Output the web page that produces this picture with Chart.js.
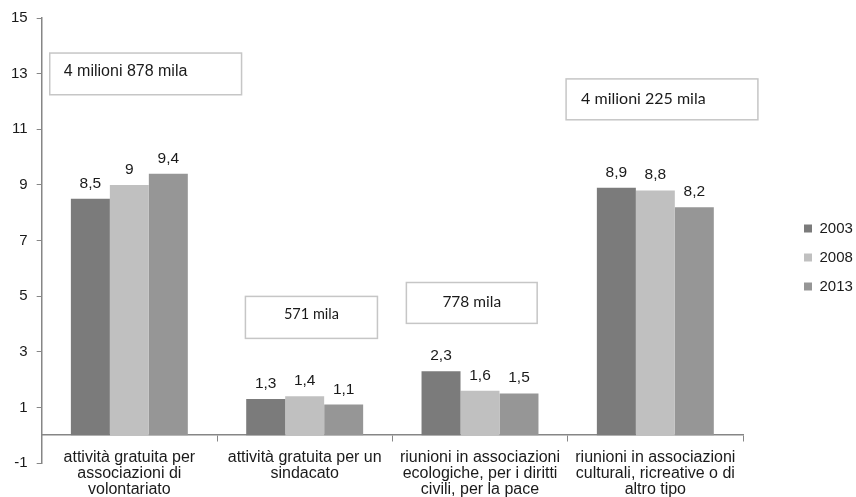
<!DOCTYPE html>
<html>
<head>
    <title>Partecipazione sociale</title>
    <script src="https://cdn.jsdelivr.net/npm/chart.js"></script>
    <style>
        body { margin: 0; background: #fff; }
        #wrap { width: 856px; height: 497px; }
    </style>
</head>
<body>
    <div id="wrap">
        <canvas id="chart" width="856" height="497"></canvas>
    </div>

    <script>
        // dati
        const categorie = [
            ['attività gratuita per', 'associazioni di', 'volontariato'],
            ['attività gratuita per un', 'sindacato'],
            ['riunioni in associazioni', 'ecologiche, per i diritti', 'civili, per la pace'],
            ['riunioni in associazioni', 'culturali, ricreative o di', 'altro tipo']
        ];
        const anni = ['2003', '2008', '2013'];
        const valori2003 = [8.5, 1.3, 2.3, 8.9];
        const valori2008 = [9, 1.4, 1.6, 8.8];
        const valori2013 = [9.4, 1.1, 1.5, 8.2];
        const tickY = { min: -1, max: 15, step: 2 };

        // riquadri di testo (in coordinate del grafico: indice categoria, valore)
        const riquadri = [
            { testo: '4 milioni 878 mila', x0: -0.454, x1: 0.640, y0: 12.24, y1: 13.74, font: '16px "Liberation Sans", Arial, sans-serif', align: 'left', pad: 14, dy: -2 },
            { testo: '571 mila', x0: 0.662, x1: 1.415, y0: 3.48, y1: 4.99, font: '14.5px Lato, sans-serif', align: 'center', dy: -3 },
            { testo: '778 mila', x0: 1.580, x1: 2.326, y0: 4.02, y1: 5.49, font: '15.5px Lato, sans-serif', align: 'center', dy: -1 },
            { testo: '4 milioni 225 mila', x0: 2.491, x1: 3.585, y0: 11.34, y1: 12.81, font: '16px Lato, sans-serif', align: 'left', pad: 15, dy: -1 }
        ];

        const grigioAsse = '#868686';
        const testo = '#1a1a1a';
        const arial = '"Liberation Sans", Arial, sans-serif';

        // etichette sopra le barre
        const etichette = {
            id: 'etichette',
            afterDatasetsDraw(chart) {
                const c = chart.ctx;
                c.save();
                c.font = '15.5px ' + arial;
                c.fillStyle = testo;
                c.textAlign = 'center';
                c.textBaseline = 'alphabetic';
                chart.data.datasets.forEach((ds, i) => {
                    chart.getDatasetMeta(i).data.forEach((bar, j) => {
                        const v = String(ds.data[j]).replace('.', ',');
                        c.fillText(v, bar.x, bar.y - 11);
                    });
                });
                c.restore();
            }
        };

        const caselle = {
            id: 'caselle',
            afterDraw(chart) {
                const c = chart.ctx;
                const sx = chart.scales.x, sy = chart.scales.y;
                c.save();
                riquadri.forEach(r => {
                    const left = sx.getPixelForValue(r.x0);
                    const right = sx.getPixelForValue(r.x1);
                    const top = sy.getPixelForValue(r.y1);
                    const bottom = sy.getPixelForValue(r.y0);
                    c.fillStyle = '#fff';
                    c.fillRect(left, top, right - left, bottom - top);
                    c.strokeStyle = '#c6c6c6';
                    c.lineWidth = 1.5;
                    c.strokeRect(left, top, right - left, bottom - top);
                    c.font = r.font;
                    c.fillStyle = testo;
                    c.textBaseline = 'middle';
                    const ym = (top + bottom) / 2 + r.dy;
                    if (r.align === 'left') {
                        c.textAlign = 'left';
                        c.fillText(r.testo, left + r.pad, ym);
                    } else {
                        c.textAlign = 'center';
                        c.fillText(r.testo, (left + right) / 2, ym);
                    }
                });
                c.restore();
            }
        };

        const ctx = document.getElementById('chart').getContext('2d');
        const chart = new Chart(ctx, {
            type: 'bar',
            data: {
                labels: categorie,
                datasets: [
                    { label: anni[0], data: valori2003, backgroundColor: '#7b7b7b' },
                    { label: anni[1], data: valori2008, backgroundColor: '#c0c0c0' },
                    { label: anni[2], data: valori2013, backgroundColor: '#969696' }
                ]
            },
            options: {
                responsive: false,
                animation: false,
                datasets: {
                    bar: { categoryPercentage: 0.667, barPercentage: 1 }
                },
                layout: {
                    padding: { top: 17, bottom: 34, left: 2, right: 0 }
                },
                scales: {
                    x: {
                        position: { y: 0 },
                        grid: {
                            display: true,
                            drawOnChartArea: false,
                            drawTicks: true,
                            tickLength: 6,
                            color: grigioAsse
                        },
                        border: { display: true, color: grigioAsse, width: 1.5 },
                        ticks: {
                            color: testo,
                            padding: 8,
                            maxRotation: 0,
                            autoSkip: false,
                            font: { family: arial, size: 16, lineHeight: 1.0 }
                        }
                    },
                    y: {
                        min: tickY.min,
                        max: tickY.max,
                        grid: {
                            display: true,
                            drawOnChartArea: false,
                            drawTicks: true,
                            tickLength: 5,
                            color: grigioAsse
                        },
                        border: { display: true, color: grigioAsse, width: 1.5 },
                        ticks: {
                            stepSize: tickY.step,
                            color: testo,
                            padding: 9,
                            font: { family: arial, size: 15 }
                        }
                    },
                    // spazio vuoto tra grafico e legenda
                    spazio: {
                        type: 'linear',
                        axis: 'y',
                        position: 'right',
                        display: true,
                        grid: { display: false },
                        border: { display: false },
                        ticks: { display: false },
                        afterFit(s) { s.width = 47; }
                    }
                },
                plugins: {
                    tooltip: { enabled: false },
                    legend: {
                        position: 'right',
                        maxWidth: 66,
                        title: { display: true, text: '', padding: { top: 17, bottom: 0 }, font: { size: 15 } },
                        labels: {
                            boxWidth: 8,
                            boxHeight: 8,
                            padding: 14,
                            color: testo,
                            font: { family: arial, size: 15 }
                        }
                    }
                }
            },
            plugins: [etichette, caselle]
        });
    </script>
</body>
</html>
